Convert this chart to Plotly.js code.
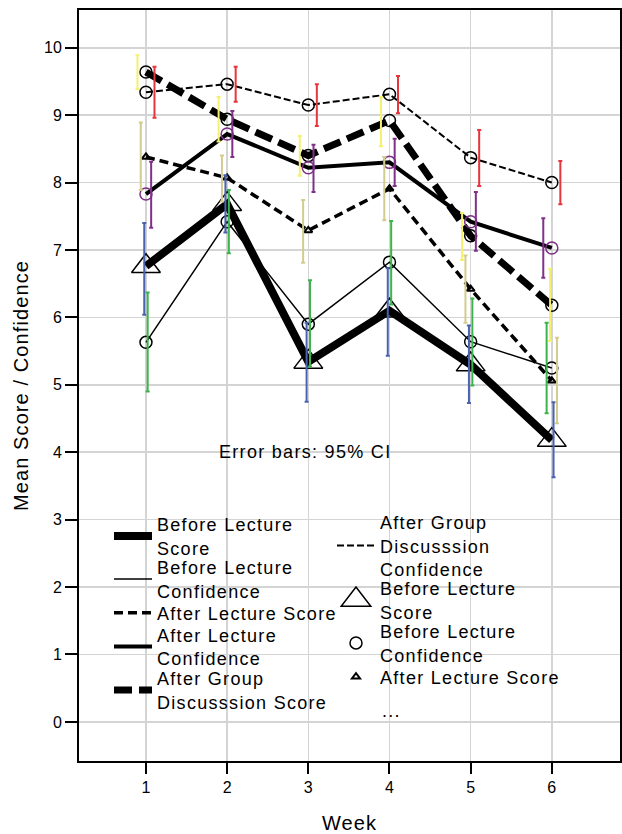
<!DOCTYPE html>
<html>
<head>
<meta charset="utf-8">
<script src="https://cdn.plot.ly/plotly-3.0.1.min.js"></script>
<style>
  html, body { margin: 0; padding: 0; background: #fff; }
  #chart { width: 622px; height: 834px; }
  .xtitle, .ytitle { letter-spacing: 1.1px; }
  .annotation-text { letter-spacing: 1.3px; }
  .legendtext, .legend2text, .legend3text, .legend4text,
  .legend5text, .legend6text, .legend7text, .legend8text,
  .legend9text { letter-spacing: 1.3px; }
  /* the library caps legend marker size: enlarge the big-triangle legend symbol */
  g.legend7 path.scatterpts {
    transform: translate(24px, 0px) scale(1.6);
    vector-effect: non-scaling-stroke;
  }
</style>
</head>
<body>
<div id="chart"></div>
<script>
// ---- data ----
const weeks = [1, 2, 3, 4, 5, 6];
const weekLabels = ['1', '2', '3', '4', '5', '6'];
const yTicks = [0, 1, 2, 3, 4, 5, 6, 7, 8, 9, 10];

const seriesNames = [
  'Before Lecture<br>Score',
  'Before Lecture<br>Confidence',
  'After Lecture Score',
  'After Lecture<br>Confidence',
  'After Group<br>Discusssion Score',
  'After Group<br>Discusssion<br>Confidence'
];

const blScore   = [6.76, 7.68, 5.34, 6.10, 5.30, 4.18];
const blScoreLo = [6.04, 7.26, 4.75, 5.43, 4.73, 3.63];
const blScoreHi = [7.40, 8.11, 5.92, 6.73, 5.88, 4.74];

const blConf   = [5.63, 7.42, 5.90, 6.82, 5.64, 5.25];
const blConfLo = [4.90, 6.95, 5.27, 6.19, 4.99, 4.58];
const blConfHi = [6.37, 7.89, 6.55, 7.43, 6.28, 5.92];

const alScore   = [8.38, 8.07, 7.29, 7.91, 6.42, 5.06];
const alScoreLo = [7.89, 7.72, 6.81, 7.44, 5.92, 4.43];
const alScoreHi = [8.89, 8.40, 7.74, 8.38, 6.92, 5.70];

const alConf   = [7.83, 8.72, 8.22, 8.30, 7.42, 7.03];
const alConfLo = [7.33, 8.38, 7.86, 7.95, 6.99, 6.59];
const alConfHi = [8.31, 9.06, 8.56, 8.65, 7.86, 7.47];

const gdScore   = [9.64, 8.94, 8.40, 8.92, 7.21, 6.18];
const gdScoreLo = [9.39, 8.61, 8.10, 8.54, 6.85, 5.65];
const gdScoreHi = [9.89, 9.27, 8.69, 9.27, 7.55, 6.72];

const gdConf   = [9.34, 9.46, 9.15, 9.31, 8.37, 8.00];
const gdConfLo = [8.96, 9.20, 8.84, 9.03, 7.95, 7.68];
const gdConfHi = [9.72, 9.72, 9.46, 9.58, 8.78, 8.32];

// ---- styling ----
const FONT = 'Liberation Sans, Arial, sans-serif';
const means = [blScore, blConf, alScore, alConf, gdScore, gdConf];
const lows  = [blScoreLo, blConfLo, alScoreLo, alConfLo, gdScoreLo, gdConfLo];
const highs = [blScoreHi, blConfHi, alScoreHi, alConfHi, gdScoreHi, gdConfHi];

const lineStyles = [
  {width: 8,   dash: 'solid'},
  {width: 1.5, dash: 'solid'},
  {width: 3.5, dash: '9px,5px'},
  {width: 4,   dash: 'solid'},
  {width: 7,   dash: '18px,7px'},
  {width: 2,   dash: '7px,3px'}
];
const markerStyles = [
  {symbol: 'triangle-up-open', size: 25, color: '#000', lw: 1.5},
  {symbol: 'circle-open', size: 12, color: '#000', lw: 1.5},
  {symbol: 'triangle-up-open', size: 7, color: '#000', lw: 2},
  {symbol: 'circle-open', size: 12, color: '#7d2e86', lw: 1.5},
  {symbol: 'circle-open', size: 12, color: '#000', lw: 1.5},
  {symbol: 'circle-open', size: 12, color: '#000', lw: 1.5}
];
const ciColors = ['#4a62b0', '#3cb44b', '#d3cc8f', '#80308a', '#f5f06e', '#e8343c'];
// horizontal dodge of the CI bars within each week
const ciDodge = [
  [-0.021, -0.021, -0.021, -0.021, -0.021,  0.021],
  [ 0.021,  0.021,  0.021,  0.021,  0.021, -0.064],
  [-0.064, -0.064, -0.064, -0.064, -0.064,  0.064],
  [ 0.064,  0.064,  0.064,  0.064,  0.064, -0.105],
  [-0.105, -0.105, -0.105, -0.105, -0.105, -0.021],
  [ 0.105,  0.105,  0.105,  0.105,  0.105,  0.105]
];
const lineLegend = ['legend', 'legend2', 'legend3', 'legend4', 'legend5', 'legend6'];
const markerLegend = ['legend7', 'legend8', 'legend9', null, null, null];

const traces = [];
const drawOrder = [5, 4, 3, 2, 1, 0];
drawOrder.forEach(i => {
  traces.push({
    type: 'scatter', mode: 'lines', x: weeks, y: means[i],
    name: seriesNames[i], legend: lineLegend[i],
    line: {color: '#000', width: lineStyles[i].width, dash: lineStyles[i].dash},
    hoverinfo: 'skip'
  });
});
drawOrder.forEach(i => {
  const m = markerStyles[i];
  traces.push({
    type: 'scatter', mode: 'markers', x: weeks, y: means[i],
    name: seriesNames[i],
    legend: markerLegend[i] || 'legend',
    showlegend: !!markerLegend[i],
    marker: {symbol: m.symbol, size: m.size, color: m.color, line: {color: m.color, width: m.lw}},
    hoverinfo: 'skip'
  });
});
drawOrder.forEach(i => {
  traces.push({
    type: 'scatter', mode: 'markers',
    x: weeks.map((w, k) => w + ciDodge[i][k]),
    y: means[i],
    showlegend: false,
    marker: {size: 1, opacity: 0},
    error_y: {
      type: 'data', symmetric: false, visible: true,
      array: highs[i].map((h, k) => h - means[i][k]),
      arrayminus: lows[i].map((l, k) => means[i][k] - l),
      color: ciColors[i], thickness: 2, width: 2
    },
    hoverinfo: 'skip'
  });
});

function leg(xp, yp) {
  return {
    x: xp, y: yp, xanchor: 'left', yanchor: 'middle',
    bgcolor: 'rgba(0,0,0,0)', borderwidth: 0, itemwidth: 38,
    font: {family: FONT, size: 18, color: '#000'},
    itemclick: false, itemdoubleclick: false
  };
}
const W = 541, H = 751, L = 79, T = 10;
const px = x => (x - L) / W;
const py = y => (T + H - y) / H;

const layout = {
  width: 622, height: 834,
  margin: {l: L, r: 2, t: T, b: 73},
  paper_bgcolor: '#fff', plot_bgcolor: '#fff',
  font: {family: FONT, color: '#000'},
  xaxis: {
    range: [0.175, 6.84], tickvals: weeks, ticktext: weekLabels,
    showgrid: true, gridcolor: '#d4d4d4', gridwidth: 1.5,
    zeroline: false, showline: true, mirror: true, linecolor: '#000', linewidth: 2,
    ticks: 'outside', ticklen: 11, tickwidth: 2, tickcolor: '#000',
    tickfont: {size: 16, family: FONT},
    title: {text: 'Week', font: {size: 20, family: FONT}}
  },
  yaxis: {
    range: [-0.58, 10.56], tickvals: yTicks,
    showgrid: true, gridcolor: '#d4d4d4', gridwidth: 1.5,
    zeroline: false, showline: true, mirror: true, linecolor: '#000', linewidth: 2,
    ticks: 'outside', ticklen: 12, tickwidth: 2, tickcolor: '#000',
    tickfont: {size: 16, family: FONT},
    title: {text: 'Mean Score / Confidence', font: {size: 20, family: FONT}}
  },
  legend:  leg(px(109), py(536)),
  legend2: leg(px(109), py(579)),
  legend3: leg(px(109), py(613)),
  legend4: leg(px(109), py(646.5)),
  legend5: leg(px(109), py(690)),
  legend6: leg(px(332), py(546)),
  legend7: leg(px(332), py(600)),
  legend8: leg(px(332), py(643)),
  legend9: leg(px(332), py(677)),
  annotations: [
    {text: 'Error bars: 95% CI', x: 2.958, y: 4.0, xref: 'x', yref: 'y',
     xanchor: 'center', yanchor: 'middle', showarrow: false,
     font: {size: 18, family: FONT, color: '#000'}},
    {text: '...', x: px(380), y: py(711), xref: 'paper', yref: 'paper',
     xanchor: 'left', yanchor: 'middle', showarrow: false,
     font: {size: 18, family: FONT, color: '#000'}}
  ],
  showlegend: true
};

Plotly.newPlot('chart', traces, layout, {staticPlot: true, displayModeBar: false});
</script>
</body>
</html>
